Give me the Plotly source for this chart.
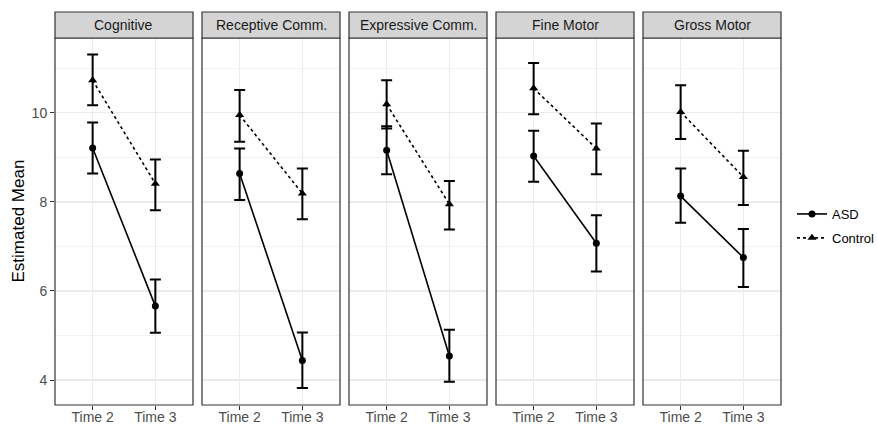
import plotly.graph_objects as go

domains = ["Cognitive", "Receptive Comm.", "Expressive Comm.", "Fine Motor", "Gross Motor"]
times = ["Time 2", "Time 3"]

asd_mean = [[9.21, 5.66], [8.64, 4.44], [9.16, 4.54], [9.03, 7.07], [8.13, 6.75]]
asd_upper = [[9.78, 6.26], [9.20, 5.07], [9.70, 5.13], [9.60, 7.70], [8.75, 7.39]]
asd_lower = [[8.64, 5.06], [8.04, 3.82], [8.62, 3.96], [8.45, 6.44], [7.53, 6.09]]

ctl_mean = [[10.73, 8.41], [9.95, 8.19], [10.19, 7.95], [10.55, 9.20], [10.02, 8.56]]
ctl_upper = [[11.31, 8.95], [10.51, 8.75], [10.73, 8.47], [11.12, 9.76], [10.62, 9.15]]
ctl_lower = [[10.17, 7.81], [9.35, 7.61], [9.65, 7.38], [9.97, 8.62], [9.41, 7.93]]

y_ticks = [4, 6, 8, 10]

W, H = 877, 424
panel_left = [55, 202, 349, 496, 643]
panel_w = 138
top_px, bot_px = 38, 405
strip_top = 12

FONT = "Liberation Sans, Arial, sans-serif"

fig = go.Figure()

groups = [
    ("ASD", asd_mean, asd_upper, asd_lower, "solid", "circle", 7),
    ("Control", ctl_mean, ctl_upper, ctl_lower, "dot", "triangle-up", 8),
]

for i, name in enumerate(domains):
    ax = "" if i == 0 else str(i + 1)
    for gname, m, u, l, dash, sym, msize in groups:
        up = [u[i][k] - m[i][k] for k in range(2)]
        dn = [m[i][k] - l[i][k] for k in range(2)]
        fig.add_trace(go.Scatter(
            x=times, y=m[i], mode="lines+markers", name=gname,
            legendgroup=gname, showlegend=(i == 0),
            line=dict(color="black", width=1.6, dash=dash),
            marker=dict(color="black", symbol=sym, size=msize),
            error_y=dict(type="data", array=up, arrayminus=dn,
                         color="black", thickness=2, width=5.5),
            xaxis="x" + ax, yaxis="y" + ax,
        ))
    x0 = panel_left[i] / W
    x1 = (panel_left[i] + panel_w) / W
    xa = dict(domain=[x0, x1], type="category", categoryorder="array",
              categoryarray=times, range=[-0.6, 1.6],
              showgrid=True, gridcolor="#ebebeb", gridwidth=1.2,
              ticks="outside", ticklen=4, tickcolor="#333333",
              tickfont=dict(family=FONT, size=14, color="#4d4d4d"),
              showline=False, zeroline=False, fixedrange=True,
              automargin=False, ticklabelstandoff=-5,
              anchor="y" + ax)
    ya = dict(domain=[1 - bot_px / H, 1 - top_px / H], range=[3.44, 11.68],
              tickvals=y_ticks, showgrid=True, gridcolor="#ebebeb", gridwidth=1.2,
              minor=dict(tickvals=[5, 7, 9, 11], showgrid=True,
                         gridcolor="#f2f2f2", gridwidth=1),
              zeroline=False, showline=False, fixedrange=True,
              automargin=False, anchor="x" + ax)
    if i == 0:
        ya.update(ticks="outside", ticklen=4, tickcolor="#333333",
                  tickfont=dict(family=FONT, size=14, color="#4d4d4d"))
    else:
        ya.update(showticklabels=False, ticks="", matches="y")
    fig.layout["xaxis" + ax] = xa
    fig.layout["yaxis" + ax] = ya

    # panel border
    fig.add_shape(type="rect", xref="paper", yref="paper",
                  x0=x0, x1=x1, y0=1 - bot_px / H, y1=1 - top_px / H,
                  line=dict(color="#333333", width=1.2), fillcolor="rgba(0,0,0,0)",
                  layer="above")
    # strip
    fig.add_shape(type="rect", xref="paper", yref="paper",
                  x0=x0, x1=x1, y0=1 - top_px / H, y1=1 - strip_top / H,
                  line=dict(color="#333333", width=1.2), fillcolor="#d4d4d4")
    fig.add_annotation(x=(x0 + x1) / 2, y=1 - (top_px + strip_top) / 2 / H,
                       xref="paper", yref="paper", text=name, showarrow=False,
                       font=dict(family=FONT, size=14, color="#1a1a1a"),
                       xanchor="center", yanchor="middle")

fig.add_annotation(x=18 / W, y=1 - (top_px + bot_px) / 2 / H, xref="paper", yref="paper",
                   text="Estimated Mean", textangle=-90, showarrow=False,
                   font=dict(family=FONT, size=17, color="black"),
                   xanchor="center", yanchor="middle")

fig.update_layout(
    width=W, height=H, margin=dict(l=0, r=0, t=0, b=0, autoexpand=False),
    paper_bgcolor="white", plot_bgcolor="white",
    showlegend=True,
    legend=dict(x=792 / W, y=1 - 226 / H, xanchor="left", yanchor="middle",
                font=dict(family=FONT, size=13, color="black"),
                itemwidth=30, tracegroupgap=4, bgcolor="rgba(0,0,0,0)"),
)

fig.write_html("out.html", config={"displayModeBar": False, "staticPlot": True},
               post_script="document.body.style.margin='0';document.body.style.overflow='hidden';")
